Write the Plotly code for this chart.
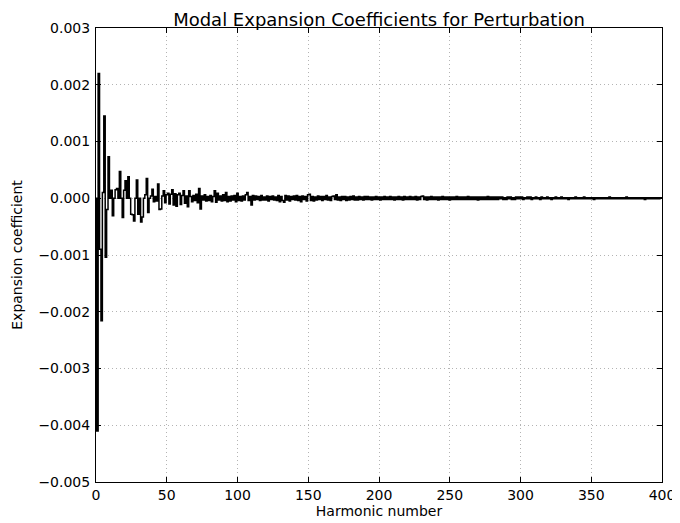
import plotly.graph_objects as go

# Expansion coefficients in units of 1e-5, harmonic numbers 0..400
coeff_e5 = [
    0, -410, 220, -90, -216, 10, 145, -104, -20, 73, 0, 14, -31, 0, 15, 17, 0, 47, 0, -34,
    14, 31, 0, 38, 0, -28, -29, -40, 0, 32, -28, 0, -42, -33, 0, 6, 35, -25, 0, 4,
    16, -6, 3, -5, 25, -20, -19, 4, 13, -8, 6, 9, -10, 7, 15, -12, 8, -14, 6, 9,
    -11, 5, 13, -9, 4, -15, 13, 3, -6, 5, -4, 7, -8, 17, -19, 4, -3, 6, -5, 3,
    -4, 5, -6, 3, 13, -7, 9, -3, 4, -5, 6, -4, 10, -6, 3, -5, 4, -3, 5, -6,
    9, -4, 3, -5, 4, -3, 6, 10, -4, 3, -12, 5, -3, 4, -2, 3, -4, 5, -3, 2,
    -3, 4, -5, 3, -2, 4, -3, 2, -4, 5, -6, 3, -4, -7, 5, -3, 4, -5, 3, -2,
    4, -3, 5, -4, 3, -6, 4, -2, 3, -5, 6, 7, -4, 3, -5, 2, -3, 4, -2, 3,
    -4, 3, -2, 5, -3, 2, -4, 3, 4, -2, 6, -3, 2, -4, 3, -2, 3, -4, 2, -3,
    3, -2, 4, -3, 2, -3, 3, -2, 2, -3, 3, -2, 3, -2, 2, -3, 2, -2, 3, -2,
    2, -3, 2, -2, 3, -2, 2, -2, 3, -2, 2, -3, 2, -2, 3, -2, 2, -3, 3, -2,
    2, -2, 3, -2, 2, -2, 3, -3, 2, -2, 3, 4, -2, 2, -3, 2, -2, 3, -2, 2,
    -2, 2, -3, 2, -2, 3, -2, 2, -2, 2, -3, 2, -2, 2, -2, 3, -2, 2, -2, 2,
    -2, 2, -2, 3, -2, 2, -2, 2, -2, 2, -3, 2, -2, 2, -2, 2, -2, 3, -2, 2,
    -2, 2, -2, 2, -2, 2, -1, 2, -2, 1, -2, 2, -1, 2, -2, 1, -2, 2, -1, 2,
    -1, 2, -2, 1, -1, 2, -1, 2, -2, 1, -1, 2, -1, 1, -2, 2, -1, 1, -1, 2,
    -1, 1, -2, 1, -1, 2, -1, 1, -1, 2, -1, 1, -1, 1, -2, 1, -1, 1, -1, 2,
    -1, 1, -1, 1, -1, 2, -1, 1, -1, 1, -1, 1, -2, 1, -1, 1, -1, 1, -1, 1,
    -1, 1, -1, 2, -1, 1, -1, 1, -1, 1, -1, 1, -1, 1, -1, 2, -1, 1, -1, 1,
    -1, 1, -1, 1, -1, 1, -1, 1, -2, 1, -1, 1, -1, 1, -1, 1, -1, 1, -1, 1,
    0,
]
harmonics = list(range(len(coeff_e5)))
coefficients = [v * 1e-5 for v in coeff_e5]

x_ticks = [0, 50, 100, 150, 200, 250, 300, 350, 400]
y_ticks = [-0.005, -0.004, -0.003, -0.002, -0.001, 0.0, 0.001, 0.002, 0.003]

FONT = "DejaVu Sans"

fig = go.Figure()
fig.add_trace(go.Scatter(
    x=harmonics, y=coefficients, mode="lines",
    line=dict(color="black", width=1.5, shape="hvh"),
    showlegend=False, hoverinfo="skip",
))

axis_common = dict(
    showline=True, linecolor="black", linewidth=1, mirror="ticks",
    ticks="inside", ticklen=5, tickcolor="black", tickwidth=1,
    showgrid=True, gridcolor="#b4b4b4", griddash="1px,3px", gridwidth=1,
    zeroline=False, tickfont=dict(family=FONT, size=14, color="black"),
    automargin=False,
)

# the page body has an 8px default margin, so the figure is sized to fit
fig.update_layout(
    width=672, height=515,
    margin=dict(l=88, r=18, t=20, b=41),
    paper_bgcolor="white", plot_bgcolor="white",
    title=dict(text="Modal Expansion Coefficients for Perturbation",
               font=dict(family=FONT, size=18, color="black"),
               x=0.5, xref="paper", xanchor="center",
               y=1, yref="paper", yanchor="bottom", pad=dict(b=2)),
    xaxis=dict(range=[0, 400], tickvals=x_ticks,
               title=dict(text="Harmonic number", font=dict(family=FONT, size=14, color="black"), standoff=0),
               **axis_common),
    yaxis=dict(range=[-0.005, 0.003], tickvals=y_ticks, tickformat=".3f",
               ticklabelstandoff=2,
               title=dict(text="Expansion coefficient", font=dict(family=FONT, size=14, color="black"), standoff=12),
               **axis_common),
)

fig.write_html("out.html")
